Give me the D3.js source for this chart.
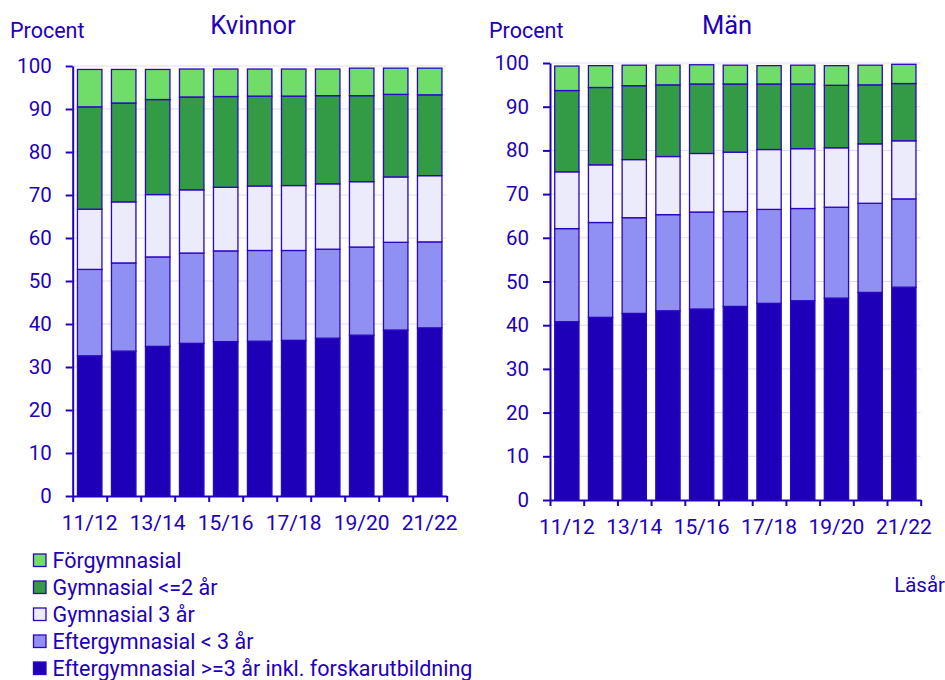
<!DOCTYPE html>
<html>
<head>
<meta charset="utf-8">
<script src="https://cdn.jsdelivr.net/npm/d3@7"></script>
<style>
	body { margin: 0; background: #fff; }
	svg { font-family: Roboto, sans-serif; }
</style>
</head>
<body>
<div id="chart"></div>
<script>
// academic years
const years = ['11/12', '12/13', '13/14', '14/15', '15/16', '16/17', '17/18', '18/19', '19/20', '20/21', '21/22'];
const yTicks = [0, 10, 20, 30, 40, 50, 60, 70, 80, 90, 100];

// series, stacked bottom to top
const seriesNames = [
	'Eftergymnasial >=3 år inkl. forskarutbildning',
	'Eftergymnasial < 3 år',
	'Gymnasial 3 år',
	'Gymnasial <=2 år',
	'Förgymnasial',
];
const seriesColors = ['#1f00b9', '#8f90f2', '#ecebfc', '#339b45', '#71dd69'];

// Kvinnor (percent)
const womenPost3 = [32.6, 33.7, 34.8, 35.5, 35.9, 36.0, 36.2, 36.7, 37.4, 38.6, 39.1];
const womenPostShort = [20.1, 20.5, 20.8, 21.0, 21.1, 21.1, 20.9, 20.7, 20.5, 20.4, 20.0];
const womenGym3 = [14.0, 14.2, 14.5, 14.7, 14.8, 15.0, 15.1, 15.2, 15.2, 15.2, 15.4];
const womenGym2 = [23.8, 23.0, 22.1, 21.6, 21.1, 20.9, 20.8, 20.5, 20.0, 19.2, 18.8];
const womenPre = [8.7, 7.8, 7.0, 6.5, 6.4, 6.3, 6.3, 6.2, 6.4, 6.1, 6.2];

// Män (percent)
const menPost3 = [40.8, 41.8, 42.7, 43.3, 43.7, 44.3, 45.0, 45.6, 46.2, 47.5, 48.7];
const menPostShort = [21.3, 21.7, 21.9, 22.0, 22.2, 21.7, 21.5, 21.1, 20.8, 20.4, 20.2];
const menGym3 = [13.0, 13.2, 13.3, 13.3, 13.4, 13.6, 13.7, 13.7, 13.6, 13.6, 13.3];
const menGym2 = [18.6, 17.7, 16.9, 16.4, 15.9, 15.6, 15.0, 14.8, 14.3, 13.5, 13.1];
const menPre = [5.6, 5.0, 4.7, 4.5, 4.4, 4.3, 4.2, 4.3, 4.5, 4.5, 4.4];

const textColor = '#2200bb';
const strokeColor = '#2a06c2';

const svg = d3.select('#chart').append('svg')
	.attr('width', 945)
	.attr('height', 680);

function drawPanel(opts) {
	const { title, data, x0, x1, yTop, yBottom, titleX, procentX } = opts;

	const rows = years.map((yr, i) => {
		const row = { year: yr };
		seriesNames.forEach((s, j) => { row[s] = data[j][i]; });
		return row;
	});
	const stacked = d3.stack().keys(seriesNames)(rows);

	const x = d3.scaleBand()
		.domain(years)
		.range([x0, x1])
		.paddingInner(0.28)
		.paddingOuter(0.14);
	const y = d3.scaleLinear()
		.domain([0, 100])
		.range([yBottom, yTop]);

	// grid
	svg.append('g')
		.selectAll('line')
		.data(yTicks.slice(1))
		.enter()
		.append('line')
		.attr('x1', x0)
		.attr('x2', x1)
		.attr('y1', d => y(d))
		.attr('y2', d => y(d))
		.attr('stroke', '#dedcf3')
		.attr('stroke-width', 1);

	// bars
	svg.append('g')
		.selectAll('g')
		.data(stacked)
		.enter()
		.append('g')
		.attr('fill', (d, i) => seriesColors[i])
		.selectAll('rect')
		.data(d => d)
		.enter()
		.append('rect')
		.attr('x', d => x(d.data.year))
		.attr('width', x.bandwidth())
		.attr('y', d => y(d[1]))
		.attr('height', d => y(d[0]) - y(d[1]))
		.attr('stroke', strokeColor)
		.attr('stroke-width', 1.3);

	// y axis
	const yAxis = svg.append('g')
		.attr('transform', `translate(${x0},0)`)
		.call(d3.axisLeft(y).tickValues(yTicks).tickSize(7).tickPadding(14).tickSizeOuter(0));
	yAxis.select('.domain').attr('stroke', textColor).attr('stroke-width', 2);
	yAxis.selectAll('.tick line').attr('stroke', textColor).attr('stroke-width', 2);
	yAxis.selectAll('.tick text')
		.attr('fill', textColor)
		.style('font-size', '20.5px')
		.style('font-family', 'Roboto, sans-serif');

	// x axis: ticks on band edges
	const edges = d3.scaleLinear().domain([0, years.length]).range([x0, x1]);
	const xAxis = svg.append('g')
		.attr('transform', `translate(0,${yBottom})`)
		.call(d3.axisBottom(edges).tickValues(d3.range(0, years.length + 1)).tickSize(6).tickFormat('').tickSizeOuter(0));
	xAxis.select('.domain').attr('stroke', textColor).attr('stroke-width', 2);
	xAxis.selectAll('.tick line').attr('stroke', textColor).attr('stroke-width', 2);

	svg.append('g')
		.selectAll('text')
		.data(years.filter((d, i) => i % 2 === 0))
		.enter()
		.append('text')
		.attr('x', d => x(d) + x.bandwidth() / 2)
		.attr('y', yBottom + 34)
		.attr('text-anchor', 'middle')
		.attr('fill', textColor)
		.style('font-size', '21px')
		.text(d => d);

	svg.append('text')
		.attr('x', titleX)
		.attr('y', 34)
		.attr('text-anchor', 'middle')
		.attr('fill', textColor)
		.style('font-size', '25.5px')
		.text(title);

	svg.append('text')
		.attr('x', procentX)
		.attr('y', 38)
		.attr('fill', textColor)
		.style('font-size', '21.5px')
		.text('Procent');
}

drawPanel({
	title: 'Kvinnor',
	data: [womenPost3, womenPostShort, womenGym3, womenGym2, womenPre],
	x0: 72.7, x1: 446.7, yTop: 66, yBottom: 496,
	titleX: 253, procentX: 10,
});

drawPanel({
	title: 'Män',
	data: [menPost3, menPostShort, menGym3, menGym2, menPre],
	x0: 550, x1: 920.7, yTop: 63, yBottom: 500,
	titleX: 727, procentX: 489,
});

// legend, top to bottom
const legendItems = seriesNames.map((s, i) => ({ name: s, color: seriesColors[i] })).reverse();
const legend = svg.append('g');
const item = legend.selectAll('g')
	.data(legendItems)
	.enter()
	.append('g')
	.attr('transform', (d, i) => `translate(33,${560 + i * 27})`);
item.append('rect')
	.attr('x', 0.5)
	.attr('y', -6)
	.attr('width', 12.5)
	.attr('height', 12.5)
	.attr('fill', d => d.color)
	.attr('stroke', strokeColor)
	.attr('stroke-width', 1.3);
item.append('text')
	.attr('x', 19.5)
	.attr('y', 7.5)
	.attr('fill', textColor)
	.style('font-size', '21.5px')
	.text(d => d.name);

svg.append('text')
	.attr('x', 945)
	.attr('y', 592)
	.attr('text-anchor', 'end')
	.attr('fill', textColor)
	.style('font-size', '20.5px')
	.text('Läsår');
</script>
</body>
</html>
